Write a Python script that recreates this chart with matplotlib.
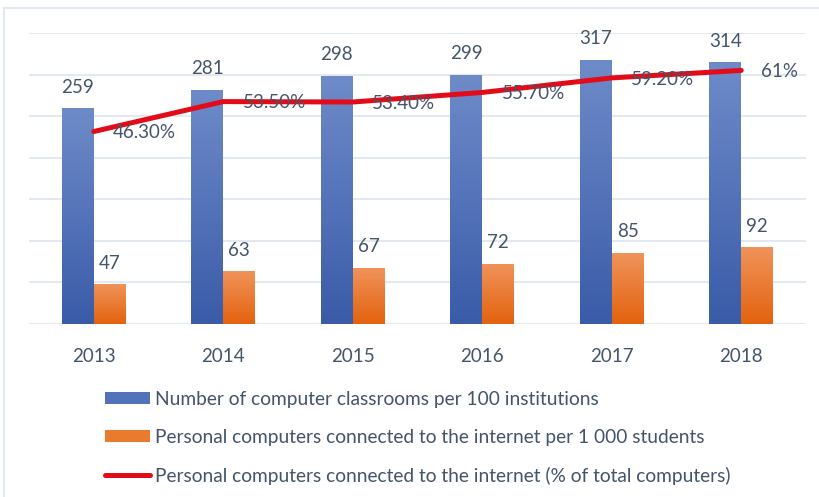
import matplotlib
matplotlib.use("Agg")
import matplotlib.pyplot as plt
import numpy as np
from matplotlib.colors import LinearSegmentedColormap
from matplotlib.patches import Patch
from matplotlib.lines import Line2D

years = ["2013", "2014", "2015", "2016", "2017", "2018"]
classrooms = [259, 281, 298, 299, 317, 314]
pcs_per_1000 = [47, 63, 67, 72, 85, 92]
pct_connected = [46.3, 53.5, 53.4, 55.7, 59.2, 61.0]
pct_labels = ["46.30%", "53.50%", "53.40%", "55.70%", "59.20%", "61%"]

label_blue = "Number of computer classrooms per 100 institutions"
label_orange = "Personal computers connected to the internet per 1 000 students"
label_red = "Personal computers connected to the internet (% of total computers)"

plt.rcParams['font.family'] = ['Lato', 'DejaVu Sans']
TXT = '#44546A'
GRID = '#E4E8F0'
blue_top, blue_bot = '#6E8BC9', '#3A5BA8'
orng_top, orng_bot = '#F0935A', '#E3620E'
RED = '#E30B17'

W, H = 820, 497
fig = plt.figure(figsize=(W / 100, H / 100), dpi=100)
ax = fig.add_axes([29 / W, 1 - 324 / H, 777 / W, 291 / H])
ax2 = ax.twinx()

x = np.arange(len(years))
bw = 0.247
b1 = ax.bar(x - bw / 2, classrooms, bw, color='none', zorder=2)
b2 = ax.bar(x + bw / 2, pcs_per_1000, bw, color='none', zorder=2)

def grad(bars, top, bot):
    cmap = LinearSegmentedColormap.from_list('g', [bot, top])
    g = np.linspace(0, 1, 256).reshape(-1, 1)
    for b in bars:
        x0, w, h = b.get_x(), b.get_width(), b.get_height()
        ax.imshow(g, extent=[x0, x0 + w, 0, h], origin='lower', aspect='auto',
                  cmap=cmap, zorder=2, interpolation='bicubic')

grad(b1, blue_top, blue_bot)
grad(b2, orng_top, orng_bot)

ax.set_xlim(-0.5, len(years) - 0.5)
ax.set_ylim(0, 350)
ax.set_yticks(np.arange(0, 351, 50))
ax.yaxis.grid(True, color=GRID, lw=1.5, zorder=0)
ax.set_axisbelow(True)
for s in ax.spines.values():
    s.set_visible(False)
for s in ax2.spines.values():
    s.set_visible(False)
ax.tick_params(axis='y', left=False, labelleft=False)
ax.tick_params(axis='x', bottom=False, labelsize=13.5, labelcolor=TXT, pad=14)
ax.set_xticks(x)
ax.set_xticklabels(years)

for b, v in zip(b1, classrooms):
    ax.annotate(str(v), (b.get_x() + b.get_width() / 2, v), xytext=(0, 11.5),
                textcoords='offset points', ha='center', va='baseline',
                fontsize=13.5, color=TXT, zorder=5)
for b, v in zip(b2, pcs_per_1000):
    ax.annotate(str(v), (b.get_x() + b.get_width() / 2, v), xytext=(0, 11.5),
                textcoords='offset points', ha='center', va='baseline',
                fontsize=13.5, color=TXT, zorder=5)

ax2.set_ylim(0, 70)
ax2.tick_params(axis='y', right=False, labelright=False)
ax2.plot(x, pct_connected, color=RED, lw=3.6, solid_capstyle='round', zorder=3)
for xi, v, t in zip(x, pct_connected, pct_labels):
    ax2.annotate(t, (xi, v), xytext=(14, -1), textcoords='offset points',
                 ha='left', va='center', fontsize=13.5, color=TXT, zorder=5)

# border
fig.add_artist(Line2D([3.5 / W, 3.5 / W], [0, 1 - 7.5 / H], transform=fig.transFigure, color=GRID, lw=1.5))
fig.add_artist(Line2D([3.5 / W, 1], [1 - 7.5 / H, 1 - 7.5 / H], transform=fig.transFigure, color=GRID, lw=1.5))

handles = [Patch(facecolor='#5272B9', edgecolor='none'),
           Patch(facecolor='#EA7A2E', edgecolor='none'),
           Line2D([], [], color=RED, lw=3.6, solid_capstyle='round')]
leg = fig.legend(handles, [label_blue, label_orange, label_red],
                 loc='upper left', bbox_to_anchor=(105 / W, 1 - 391 / H),
                 frameon=False, fontsize=13.8, labelcolor=TXT, handlelength=2.34,
                 handleheight=0.625, handletextpad=0.26, labelspacing=1.09,
                 borderaxespad=0, borderpad=0)

fig.savefig('out.png', dpi=100)
